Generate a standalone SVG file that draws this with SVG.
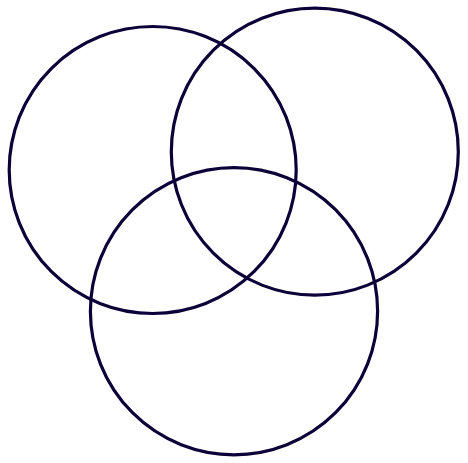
<svg xmlns="http://www.w3.org/2000/svg" width="468" height="463" viewBox="0 0 468 463">
<style>
.c{fill:none;stroke:#0b0138;stroke-width:3.2}
</style>
<rect width="468" height="463" fill="#ffffff"/>
<g id="circle-a"><circle class="c" cx="152.7" cy="170" r="143.5"/></g>
<g id="circle-b"><circle class="c" cx="314.8" cy="151.7" r="143.5"/></g>
<g id="circle-c"><circle class="c" cx="234" cy="311.2" r="143.6"/></g>
<g id="connectors"></g>
</svg>
